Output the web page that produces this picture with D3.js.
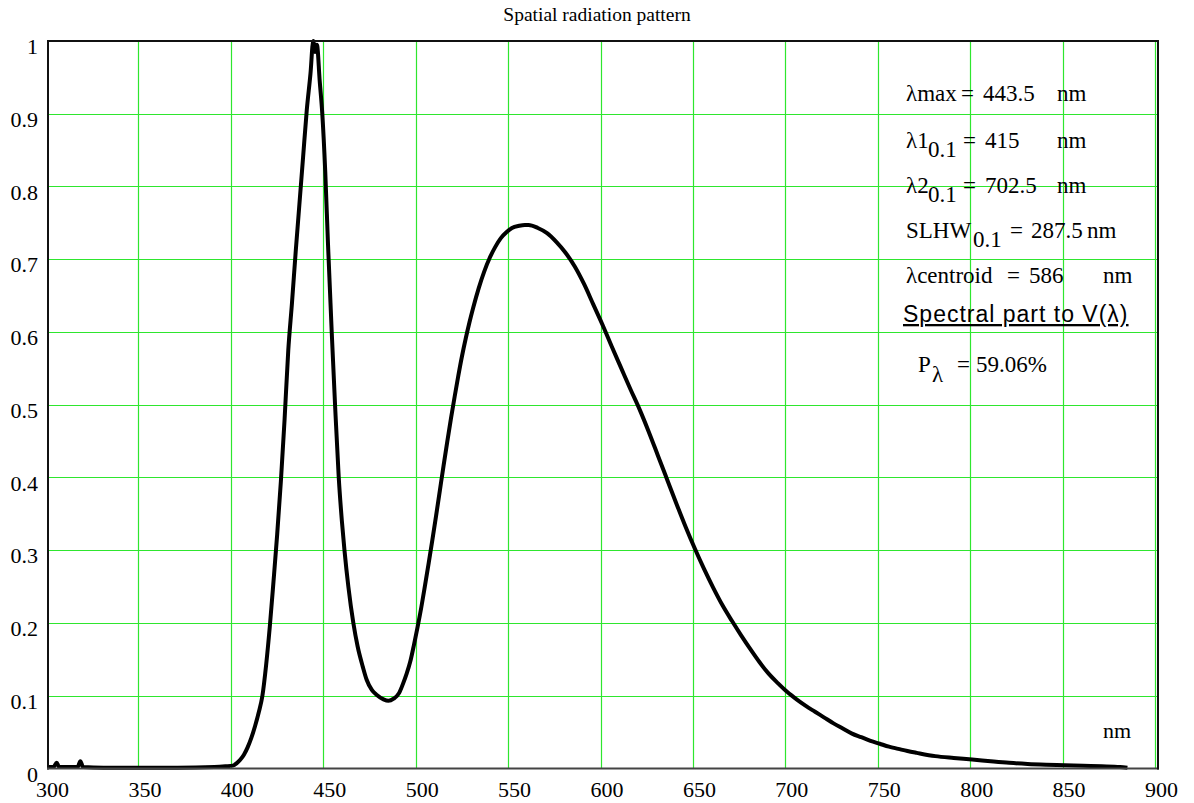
<!DOCTYPE html>
<html>
<head>
<meta charset="utf-8">
<script src="https://cdn.jsdelivr.net/npm/d3@7"></script>
<style>
  html, body { margin: 0; padding: 0; background: #fff; }
  svg { display: block; }
  text { font-family: "Liberation Serif", "Times New Roman", serif; fill: #000; }
</style>
</head>
<body>
<svg id="chart" width="1194" height="803"></svg>
<script>
// ---------------- data ----------------
const title = "Spatial radiation pattern";
const xTicks = [300, 350, 400, 450, 500, 550, 600, 650, 700, 750, 800, 850, 900];
const yTicks = [0, 0.1, 0.2, 0.3, 0.4, 0.5, 0.6, 0.7, 0.8, 0.9, 1];
const yTickLabels = ["0", "0.1", "0.2", "0.3", "0.4", "0.5", "0.6", "0.7", "0.8", "0.9", "1"];
const xUnit = "nm";

const wavelength = [
  300, 303, 304.7, 306, 316, 317.5, 319, 330, 350, 370, 390, 396,
  400, 402, 404, 406, 408, 410, 412, 414, 416, 418, 420, 422, 424, 426, 428, 430, 432, 434, 436, 438, 440, 442,
  443.5, 444.5, 445.5, 447, 448.4, 450, 451.5, 453.5, 455.3, 457.3, 459, 460.4, 462.5, 465.2, 467.5, 470.3,
  472.4, 475.2, 477.9, 481.5, 484.2, 487, 490, 492, 494, 496, 498, 500, 502, 504, 506, 508, 510, 512, 514,
  516, 518, 520, 522, 524, 526, 528, 530, 533, 536, 539, 542, 545, 548, 551, 555, 558, 560, 565, 570, 575,
  580, 585, 590, 595, 600, 605, 610, 615, 620, 625, 630, 635, 640, 645, 650, 655, 660, 665, 670, 675, 680,
  685, 690, 695, 700, 705, 710, 715, 720, 725, 730, 735, 740, 745, 750, 755, 760, 765, 770, 780, 790, 800,
  810, 820, 830, 840, 850, 860, 870, 880, 884
];
const intensity = [
  0.002, 0.002, 0.008, 0.002, 0.002, 0.010, 0.002, 0.001, 0.001, 0.001, 0.002, 0.003,
  0.004, 0.007, 0.012, 0.019, 0.029, 0.042, 0.058, 0.077, 0.100, 0.142, 0.195, 0.257, 0.322, 0.395, 0.480, 0.575, 0.640, 0.710, 0.775, 0.840, 0.905, 0.955,
  1.000, 0.985, 0.995, 0.945, 0.900, 0.820, 0.720, 0.600, 0.500, 0.400, 0.340, 0.300, 0.250, 0.200, 0.168, 0.140,
  0.122, 0.108, 0.101, 0.095, 0.093, 0.096, 0.104, 0.116, 0.130, 0.147, 0.170, 0.195, 0.222, 0.252, 0.283, 0.315, 0.348, 0.382, 0.416,
  0.449, 0.481, 0.511, 0.540, 0.567, 0.591, 0.613, 0.633, 0.660, 0.683, 0.702, 0.717, 0.729, 0.737, 0.743, 0.746, 0.747, 0.747, 0.743, 0.736, 0.724,
  0.709, 0.690, 0.666, 0.638, 0.610, 0.580, 0.551, 0.522, 0.494, 0.463, 0.430, 0.397, 0.364, 0.332, 0.302, 0.274, 0.248, 0.224, 0.203, 0.183, 0.164,
  0.146, 0.130, 0.117, 0.105, 0.095, 0.086, 0.078, 0.070, 0.062, 0.055, 0.048, 0.043, 0.038, 0.034, 0.030, 0.027, 0.024, 0.0215, 0.017, 0.0145, 0.0124,
  0.010, 0.0078, 0.0062, 0.0052, 0.0045, 0.0037, 0.003, 0.002, 0.001
];

// annotation block (label pieces: [text, isSubscript])
const annLines = [
  [["λmax", 0], ["=", 0], ["443.5", 0], ["nm", 0]],
  [["λ1", 0], ["0.1", 1], ["=", 0], ["415", 0], ["nm", 0]],
  [["λ2", 0], ["0.1", 1], ["=", 0], ["702.5", 0], ["nm", 0]],
  [["SLHW", 0], ["0.1", 1], ["=", 0], ["287.5", 0], ["nm", 0]],
  [["λcentroid", 0], ["=", 0], ["586", 0], ["nm", 0]]
];
const annX = [
  [906, 961, 983, 1057],
  [906, 928, 963, 985, 1057],
  [906, 928, 963, 985, 1057],
  [906, 973, 1010, 1031, 1087],
  [906, 1007, 1029, 1103]
];
const annBaselines = [101, 148, 193, 238, 283];
const spectralLabel = "Spectral part to V(λ)";
const pLabel = ["P", "λ", "=", "59.06%"];

// ---------------- layout ----------------
const svg = d3.select("#chart");
const L = 48, R = 1157, T = 41, B = 768.5;
const x = d3.scaleLinear().domain([300, 900]).range([L, R]);
const y = d3.scaleLinear().domain([0, 1]).range([B, T]);
const gridColor = "#2ee62e";

// grid
const gx = svg.append("g");
gx.selectAll("line.v").data(xTicks.filter(d => d > 300)).enter().append("line")
  .attr("x1", d => Math.round(x(d)) - 1.5).attr("x2", d => Math.round(x(d)) - 1.5)
  .attr("y1", T).attr("y2", B)
  .attr("stroke", gridColor).attr("stroke-width", 1.2);
gx.selectAll("line.h").data(yTicks.filter(d => d > 0 && d < 1)).enter().append("line")
  .attr("x1", L).attr("x2", R)
  .attr("y1", d => Math.round(y(d)) + 0.5).attr("y2", d => Math.round(y(d)) + 0.5)
  .attr("stroke", gridColor).attr("stroke-width", 1.2);

// curve
const pts = wavelength.map((w, i) => [w, intensity[i]]);
const line = d3.line().x(d => x(d[0])).y(d => y(d[1])).curve(d3.curveMonotoneX);
svg.append("path").datum(pts)
  .attr("d", line)
  .attr("fill", "none").attr("stroke", "#000").attr("stroke-width", 4)
  .attr("stroke-linejoin", "round");

// frame
svg.append("line").attr("x1", L - 1).attr("x2", R + 2).attr("y1", T).attr("y2", T)
  .attr("stroke", "#111").attr("stroke-width", 2);
svg.append("line").attr("x1", L).attr("x2", L).attr("y1", T).attr("y2", B + 1)
  .attr("stroke", "#111").attr("stroke-width", 2);
svg.append("line").attr("x1", L - 1).attr("x2", R + 2).attr("y1", B).attr("y2", B)
  .attr("stroke", "#444").attr("stroke-width", 2);
svg.append("line").attr("x1", R + 1).attr("x2", R + 1).attr("y1", T).attr("y2", B + 1)
  .attr("stroke", "#111").attr("stroke-width", 2);

// axes labels via d3 axes (ticks hidden, labels only)
const xAxis = d3.axisBottom(x).tickValues(xTicks).tickSize(0).tickPadding(0).tickFormat(d3.format("d"));
const xg = svg.append("g").attr("transform", `translate(4,${B})`).call(xAxis);
xg.select(".domain").remove();
xg.selectAll("text").attr("y", 0).attr("dy", "28.5px")
  .style("font-family", '"Liberation Serif", serif').style("font-size", "22px").attr("fill", "#000");

const yAxis = d3.axisLeft(y).tickValues(yTicks).tickSize(0).tickPadding(0)
  .tickFormat((d, i) => yTickLabels[i]);
const yg = svg.append("g").attr("transform", `translate(${L - 10},0)`).call(yAxis);
yg.select(".domain").remove();
yg.selectAll("text").attr("x", 0).attr("dy", "12.5px")
  .style("font-family", '"Liberation Serif", serif').style("font-size", "22px").attr("fill", "#000");

// title
svg.append("text").attr("x", 597).attr("y", 21).attr("text-anchor", "middle")
  .style("font-size", "19.5px").text(title);

// x unit
svg.append("text").attr("x", 1103).attr("y", 738).style("font-size", "22px").text(xUnit);

// annotations
annLines.forEach((ln, i) => {
  const t = svg.append("text").style("font-size", "23px");
  ln.forEach((p, j) => {
    t.append("tspan").attr("x", annX[i][j]).attr("y", annBaselines[i] + (p[1] ? 8.5 : 0)).text(p[0]);
  });
});

svg.append("text").attr("x", 903).attr("y", 322)
  .style("font-family", '"Liberation Sans", Arial, sans-serif').style("font-size", "23px")
  .style("letter-spacing", "1px")
  .style("text-decoration", "underline").text(spectralLabel);

const pt = svg.append("text").style("font-size", "23px");
pt.append("tspan").attr("x", 918).attr("y", 372).text(pLabel[0]);
pt.append("tspan").attr("x", 932).attr("y", 382).text(pLabel[1]);
pt.append("tspan").attr("x", 957).attr("y", 372).text(pLabel[2]);
pt.append("tspan").attr("x", 976).attr("y", 372).text(pLabel[3]);
</script>
</body>
</html>
